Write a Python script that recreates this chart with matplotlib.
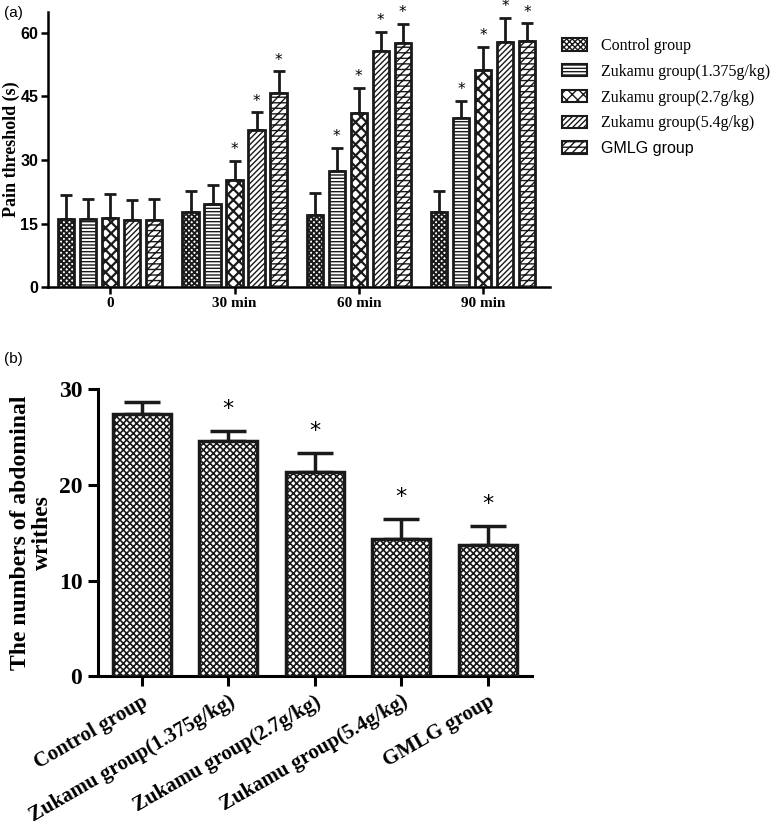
import matplotlib
matplotlib.use("Agg")
import matplotlib.pyplot as plt
import numpy as np

# ---- data ----
groups = ["Control group", "Zukamu group(1.375g/kg)", "Zukamu group(2.7g/kg)",
          "Zukamu group(5.4g/kg)", "GMLG group"]
times = ["0", "30 min", "60 min", "90 min"]

# pain threshold (s), rows = groups, cols = time points
pain_mean = [[16.1, 17.7, 17.1, 17.8],
             [16.0, 19.7, 27.4, 39.9],
             [16.4, 25.4, 41.0, 51.2],
             [15.8, 37.1, 55.8, 57.8],
             [15.8, 45.8, 57.5, 58.1]]
pain_err = [[5.7, 5.1, 5.1, 4.9],
            [4.9, 4.3, 5.5, 4.1],
            [5.7, 4.4, 6.1, 5.5],
            [4.7, 4.2, 4.4, 5.8],
            [5.1, 5.1, 4.7, 4.2]]
pain_sig = [[0, 0, 0, 0],
            [0, 0, 1, 1],
            [0, 1, 1, 1],
            [0, 1, 1, 1],
            [0, 1, 1, 1]]

writhe_mean = [27.35, 24.6, 21.35, 14.3, 13.75]
writhe_err = [1.35, 1.05, 2.0, 2.15, 1.95]
writhe_sig = [0, 1, 1, 1, 1]

hatches = ["xxxxxx", "-----", "xxx", "//////", "////---"]
hatch_lw = [1.4, 1.0, 1.6, 1.0, 1.0]


def set_hlw(bars, lw):
    for b in bars:
        if hasattr(b, "set_hatch_linewidth"):
            b.set_hatch_linewidth(lw)


fig = plt.figure(figsize=(7.75, 8.35), dpi=100)

# ---- panel (a) ----
ax1 = fig.add_axes([0.062, 0.656, 0.648, 0.330])
x = np.arange(len(times))
step = 0.177
width = 0.13
for i, g in enumerate(groups):
    plt.rcParams["hatch.linewidth"] = hatch_lw[i]
    pos = x + (i - 2) * step
    bars = ax1.bar(pos, pain_mean[i], width, facecolor="white", edgecolor="#1a1a1a",
                   linewidth=2, hatch=hatches[i], label=g, zorder=3)
    set_hlw(bars, hatch_lw[i])
    ax1.errorbar(pos, pain_mean[i], yerr=[np.zeros(len(times)), pain_err[i]],
                 fmt="none", ecolor="#1a1a1a", elinewidth=2, capsize=4.5,
                 capthick=2, zorder=2)
    for p, m, e, s in zip(pos, pain_mean[i], pain_err[i], pain_sig[i]):
        if s:
            ax1.annotate("*", (p, m + e), xytext=(0, 8), textcoords="offset points",
                         ha="center", va="center", fontsize=11, family="DejaVu Sans")

ax1.set_xlim(-0.5, 3.54)
ax1.set_ylim(0, 65)
ax1.set_yticks([0, 15, 30, 45, 60])
ax1.set_xticks(x)
ax1.set_xticklabels(times, family="Liberation Serif", fontweight="bold", fontsize=11)
for lab in ax1.get_yticklabels():
    lab.set_family("Liberation Sans")
    lab.set_fontweight("bold")
    lab.set_fontsize(11.5)
ax1.set_ylabel("Pain threshold (s)", family="Liberation Serif",
               fontweight="bold", fontsize=13, labelpad=0)
for s in ["top", "right"]:
    ax1.spines[s].set_visible(False)
for s in ["left", "bottom"]:
    ax1.spines[s].set_linewidth(1.8)
ax1.tick_params(width=1.8, length=5, pad=2)

leg = fig.legend(loc="upper left", bbox_to_anchor=(0.706, 0.972), frameon=False,
                 handlelength=1.6, handleheight=0.85, labelspacing=0.62,
                 handletextpad=0.9, prop={"family": "Liberation Serif", "size": 11.5})
leg.get_texts()[-1].set_family("Liberation Sans")
for h in leg.legend_handles:
    h.set_linewidth(1.5)

fig.text(0.005, 0.993, "(a)", family="Liberation Sans", fontsize=11, va="top")

# ---- panel (b) ----
ax2 = fig.add_axes([0.126, 0.19, 0.56, 0.344])
xb = np.arange(len(groups))
plt.rcParams["hatch.linewidth"] = 1.2
bars = ax2.bar(xb, writhe_mean, 0.67, facecolor="white", edgecolor="#1a1a1a",
               linewidth=2.5, hatch="xxxxx", zorder=3)
set_hlw(bars, 1.2)
ax2.errorbar(xb, writhe_mean, yerr=[np.zeros(len(groups)), writhe_err],
             fmt="none", ecolor="#1a1a1a", elinewidth=2.5, capsize=13,
             capthick=2.5, zorder=2)
for p, m, e, s in zip(xb, writhe_mean, writhe_err, writhe_sig):
    if s:
        ax2.annotate("*", (p, m + e), xytext=(0, 16), textcoords="offset points",
                     ha="center", va="center", fontsize=16, family="DejaVu Sans")

ax2.set_xlim(-0.51, 4.51)
ax2.set_ylim(0, 30)
ax2.set_yticks([0, 10, 20, 30])
ax2.set_xticks(xb)
ax2.set_xticklabels(groups, rotation=30, ha="right", rotation_mode="anchor",
                    family="Liberation Serif", fontweight="bold", fontsize=15)
for lab in ax2.get_yticklabels():
    lab.set_family("Liberation Serif")
    lab.set_fontweight("bold")
    lab.set_fontsize(17)
ax2.set_ylabel("The numbers of abdominal\nwrithes", family="Liberation Serif",
               fontweight="bold", fontsize=17, labelpad=4, linespacing=1.05)
for s in ["top", "right"]:
    ax2.spines[s].set_visible(False)
for s in ["left", "bottom"]:
    ax2.spines[s].set_linewidth(2.2)
ax2.tick_params(width=2.2, length=7, pad=4)

fig.text(0.005, 0.578, "(b)", family="Liberation Sans", fontsize=11, va="top")

fig.savefig("out.png", dpi=100)
